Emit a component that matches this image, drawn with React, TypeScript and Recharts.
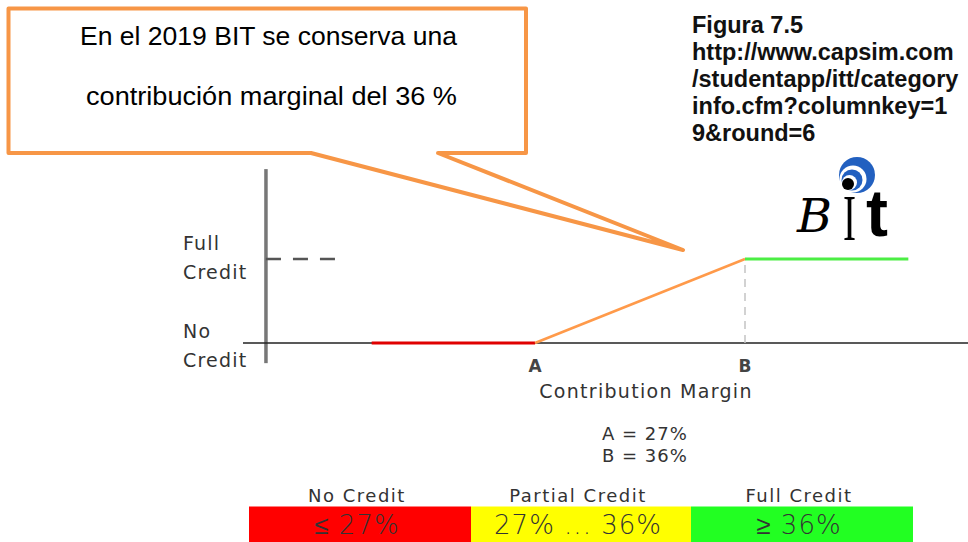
import React from 'react';
import { ComposedChart, Line, XAxis, YAxis, ReferenceLine } from 'recharts';

// ---- data ----
const noCreditSeg = [
  { x: 20, y: 0 },
  { x: 27, y: 0 },
];
const partialSeg = [
  { x: 27, y: 0 },
  { x: 36, y: 1 },
];
const fullSeg = [
  { x: 36, y: 1 },
  { x: 43, y: 1 },
];
const xTickValues = [27, 36];
const xTickLabels = ['A', 'B'];
const yTickValues = [0, 1];
const yTickLabels = [['No', 'Credit'], ['Full', 'Credit']];
const xTitle = 'Contribution Margin';
const thresholdLines = ['A = 27%', 'B = 36%'];
const bandHeaders = ['No Credit', 'Partial Credit', 'Full Credit'];
const bandRanges = ['≤ 27%', '27% ... 36%', '≥ 36%'];
const calloutLines = ['En el 2019 BIT se conserva una', 'contribución marginal del 36 %'];
const captionLines = [
  'Figura 7.5',
  'http://www.capsim.com',
  '/studentapp/itt/category',
  'info.cfm?columnkey=1',
  '9&round=6',
];

const X_DOMAIN: [number, number] = [14.486, 45.557];
const Y_DOMAIN: [number, number] = [-0.25, 2.107];
const Y_AXIS_X = 15.47;

const chartFont = '"DejaVu Sans", Verdana, sans-serif';
const textColor = '#333';

const XTick = (props: any) => {
  const { x, y, payload } = props;
  const i = xTickValues.indexOf(payload.value);
  return (
    <text x={x} y={y + 8} textAnchor="middle" fontFamily={chartFont} fontSize={17} fontWeight="bold" fill="#444">
      {xTickLabels[i]}
    </text>
  );
};

const YTick = (props: any) => {
  const { y, payload } = props;
  const i = yTickValues.indexOf(payload.value);
  const lines = yTickLabels[i] || ['', ''];
  return (
    <text x={183} y={y} textAnchor="start" fontFamily={chartFont} fontSize={19} letterSpacing={1.2} fill={textColor}>
      <tspan x={183} dy={i === 1 ? -9 : -5}>{lines[0]}</tspan>
      <tspan x={183} dy={29}>{lines[1]}</tspan>
    </text>
  );
};

const bandColors = ['#FF0000', '#FFFF00', '#22FF22'];
const bandEdges = [249, 471, 691, 913];

export default function App() {
  return (
    <div style={{ position: 'absolute', left: 0, top: 0, width: 968, height: 542, background: '#fff' }}>
      <ComposedChart
        width={968}
        height={542}
        margin={{ top: 166, right: 0, bottom: 148, left: 163 }}
      >
        <XAxis
          type="number"
          dataKey="x"
          domain={X_DOMAIN}
          allowDataOverflow
          ticks={xTickValues}
          interval={0}
          axisLine={false}
          tickLine={false}
          tickSize={0}
          tickMargin={0}
          height={30}
          tick={<XTick />}
        />
        <YAxis
          type="number"
          dataKey="y"
          domain={Y_DOMAIN}
          allowDataOverflow
          ticks={yTickValues}
          interval={0}
          axisLine={false}
          tickLine={false}
          width={80}
          tick={<YTick />}
        />
        <ReferenceLine
          segment={[{ x: Y_AXIS_X, y: -0.24 }, { x: Y_AXIS_X, y: 2.07 }]}
          stroke="#777"
          strokeWidth={3.5}
          ifOverflow="visible"
        />
        <ReferenceLine
          segment={[{ x: Y_AXIS_X, y: 1 }, { x: Y_AXIS_X + 3, y: 1 }]}
          stroke="#555"
          strokeWidth={2.5}
          strokeDasharray="15 12"
          ifOverflow="visible"
        />
        <ReferenceLine y={0} stroke="#222" strokeWidth={1.5} ifOverflow="visible" />
        <ReferenceLine
          segment={[{ x: 36, y: 0 }, { x: 36, y: 1 }]}
          stroke="#c4c4c4"
          strokeWidth={1.5}
          strokeDasharray="8 6"
          ifOverflow="visible"
        />
        <Line data={noCreditSeg} dataKey="y" stroke="#E00000" strokeWidth={3} dot={false} isAnimationActive={false} />
        <Line data={partialSeg} dataKey="y" stroke="#FF9A4A" strokeWidth={2.5} dot={false} isAnimationActive={false} />
        <Line data={fullSeg} dataKey="y" stroke="#4CEE44" strokeWidth={3} dot={false} isAnimationActive={false} />
      </ComposedChart>

      <svg
        width={968}
        height={542}
        style={{ position: 'absolute', left: 0, top: 0, pointerEvents: 'none' }}
      >
        {/* axis title & thresholds */}
        <text x={646} y={398} textAnchor="middle" fontFamily={chartFont} fontSize={19} letterSpacing={1.3} fill={textColor}>
          {xTitle}
        </text>
        {thresholdLines.map((t, i) => (
          <text key={t} x={602} y={440 + i * 22} fontFamily={chartFont} fontSize={18} letterSpacing={1} fill={textColor}>
            {t}
          </text>
        ))}

        {/* band table */}
        {bandHeaders.map((h, i) => {
          const cx = (bandEdges[i] + bandEdges[i + 1]) / 2 - 3;
          return (
            <g key={h}>
              <rect x={bandEdges[i]} y={506.5} width={bandEdges[i + 1] - bandEdges[i]} height={40} fill={bandColors[i]} />
              <text x={cx} y={502} textAnchor="middle" fontFamily={chartFont} fontSize={18} letterSpacing={1.5} fill={textColor}>
                {h}
              </text>
              <text x={cx} y={534} textAnchor="middle" fontFamily={chartFont} fontSize={26} fontWeight={200} letterSpacing={1} fill={textColor}>
                {bandRanges[i]}
              </text>
            </g>
          );
        })}

        {/* callout */}
        <path
          d="M8.5,8.5 H526 V153 H438 L683,250 L311,153 H8.5 Z"
          fill="#fff"
          stroke="#F79646"
          strokeWidth={4}
          strokeLinejoin="round"
        />
        <text x={80} y={45} fontFamily='"Liberation Sans", Arial, sans-serif' fontSize={25.5} textLength={377} lengthAdjust="spacingAndGlyphs" fill="#000">
          {calloutLines[0]}
        </text>
        <text x={86} y={105} fontFamily='"Liberation Sans", Arial, sans-serif' fontSize={25.5} textLength={371} lengthAdjust="spacingAndGlyphs" fill="#000">
          {calloutLines[1]}
        </text>

        {/* caption */}
        {captionLines.map((c, i) => (
          <text key={c} x={692} y={33 + i * 27} fontFamily='"Liberation Sans", Arial, sans-serif' fontSize={23.5} fontWeight="bold" fill="#111">
            {c}
          </text>
        ))}

        {/* BIT logo */}
        <g>
          <circle cx={857} cy={175} r={18} fill="#2260C0" />
          <circle cx={853} cy={179} r={13.5} fill="#fff" />
          <circle cx={852} cy={180} r={10.5} fill="#2260C0" />
          <circle cx={849.5} cy={182.5} r={7.5} fill="#fff" />
          <circle cx={848} cy={184} r={6} fill="#000" />
          <text x={797} y={232} fontFamily='"DejaVu Serif", serif' fontStyle="italic" fontSize={46} fontWeight={200} textLength={35} lengthAdjust="spacingAndGlyphs" fill="#000">
            B
          </text>
          <text x={843} y={240} fontFamily='"Liberation Serif", serif' fontSize={66} fontWeight={200} textLength={13} lengthAdjust="spacingAndGlyphs" fill="#000">
            I
          </text>
          <text x={866} y={236} fontFamily='"Liberation Sans", Arial, sans-serif' fontSize={66} fontWeight="bold" fill="#000">
            t
          </text>
        </g>
      </svg>
    </div>
  );
}
